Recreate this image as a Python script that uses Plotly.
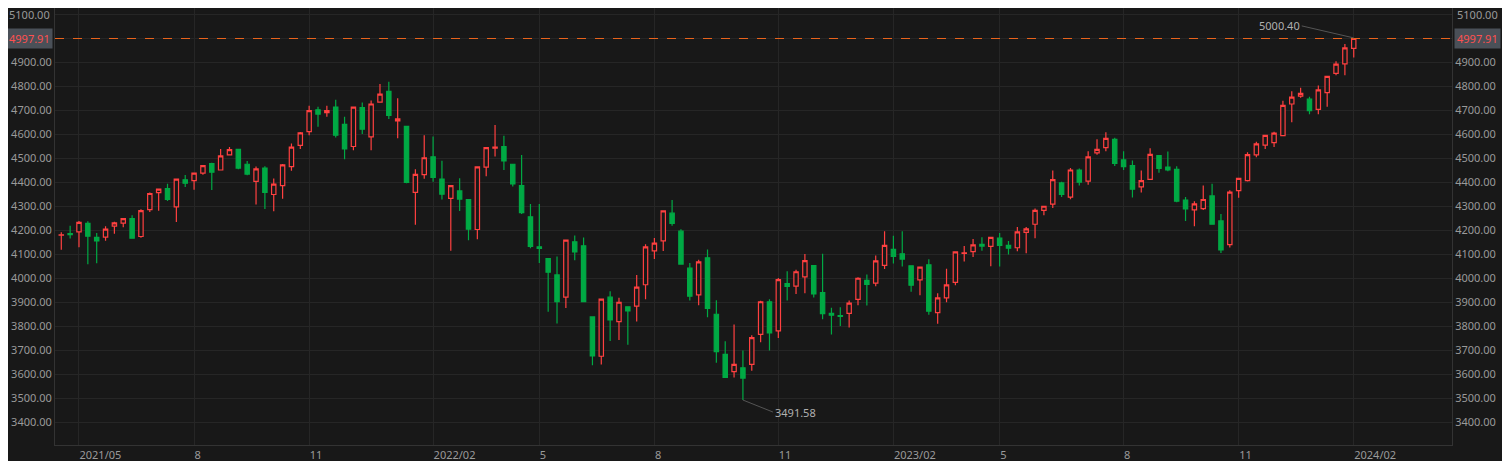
import plotly.graph_objects as go
import pandas as pd

start_week = "2021-04-19"
opens = [4179,4185,4192,4228,4169,4170,4216,4229,4248,4173,4285,4356,4372,4296,4409,4406,4437,4477,4450,4513,4536,4474,4403,4458,4348,4385,4464,4553,4610,4701,4689,4712,4640,4548,4710,4588,4733,
 4778,4655,4632,4357,4431,4505,4412,4332,4363,4327,4202,4462,4541,4547,4474,4385,4255,4130,4081,4013,3920,4151,4134,3838,3674,3920,3818,3880,3883,3972,4113,4155,4270,4195,4041,3930,4084,3849,3682,3610,3626,3640,3765,3901,3780,3977,3966,4005,4052,3939,3853,3843,
 3853,3911,3990,3979,4053,4119,4101,4051,3992,4055,3856,3917,3982,4102,4110,4140,4132,4166,4136,4126,4190,4224,4282,4308,4396,4337,4450,4404,4521,4543,4578,4492,4468,4380,4411,4510,4462,4453,4325,4284,4289,4342,4238,4139,4364,4406,4513,4554,4564,4593,4725,4758,
 4745,4703,4772,4853,4892,4957]
highs = [4191,4218,4238,4236,4187,4216,4234,4249,4261,4286,4356,4372,4393,4415,4429,4440,4470,4480,4537,4546,4536,4488,4465,4466,4415,4475,4560,4608,4718,4714,4718,4743,4672,4713,4731,4740,4808,
 4818,4749,4632,4453,4595,4590,4489,4385,4416,4329,4465,4546,4637,4593,4471,4513,4308,4308,4082,4090,4159,4177,4169,3838,3913,3945,3918,3880,4013,4141,4167,4280,4325,4203,4062,4076,4119,3907,3736,3806,3698,3762,3905,3911,4000,4028,4034,4100,4052,4101,3876,3878,
 3906,4003,4015,4094,4195,4176,4195,4052,4048,4078,3937,4039,4110,4133,4163,4170,4170,4187,4154,4212,4212,4290,4299,4448,4401,4458,4456,4528,4578,4607,4584,4528,4490,4448,4541,4512,4527,4466,4338,4320,4385,4393,4267,4366,4415,4524,4568,4595,4609,4739,4778,4793,
 4755,4802,4842,4903,4975,5000.40]
lows = [4118,4165,4128,4057,4061,4155,4184,4211,4164,4168,4275,4280,4321,4233,4379,4368,4430,4367,4450,4513,4453,4428,4306,4288,4278,4330,4447,4537,4595,4630,4672,4585,4495,4532,4600,4532,4733,
 4663,4582,4395,4222,4414,4401,4327,4114,4279,4157,4161,4424,4506,4450,4381,4267,4124,4062,3859,3810,3875,4074,3901,3637,3640,3738,3742,3722,3819,3911,4079,4112,4218,4057,3906,3887,3837,3647,3584,3585,3491.58,3614,3732,3698,3750,3906,3933,3937,3919,3828,3765,3800,
 3794,3886,3885,3966,4037,4060,4048,3943,3928,3847,3809,3899,3970,4069,4087,4114,4049,4048,4098,4111,4103,4166,4261,4292,4337,4328,4385,4389,4514,4528,4467,4450,4335,4356,4409,4439,4445,4316,4238,4216,4283,4223,4104,4127,4334,4402,4503,4537,4546,4593,4649,4751,
 4682,4682,4714,4845,4845,4919]
closes = [4180,4181,4232,4174,4155,4204,4230,4247,4166,4281,4352,4370,4327,4412,4395,4437,4468,4441,4509,4535,4458,4433,4455,4357,4391,4471,4545,4605,4697,4683,4698,4595,4538,4712,4620,4725,4766,
 4677,4663,4398,4432,4501,4419,4349,4385,4329,4204,4463,4543,4545,4488,4392,4272,4132,4123,4024,3901,4158,4109,3901,3675,3912,3825,3899,3863,3962,4130,4145,4280,4228,4058,3924,4067,3873,3693,3586,3640,3583,3752,3901,3771,3993,3965,4026,4072,3934,3852,3845,3840,
 3895,3999,3973,4071,4136,4090,4079,3970,4045,3862,3917,3971,4109,4105,4138,4133,4169,4136,4124,4192,4205,4282,4299,4410,4348,4450,4399,4505,4536,4582,4478,4464,4370,4406,4515,4457,4450,4320,4288,4309,4327,4224,4117,4358,4415,4514,4559,4594,4604,4719,4754,4769,
 4697,4784,4840,4891,4959,4997.91]

last_price = 4997.91
top_tick = 5100
bg = "#181818"
grid = "#262626"
txt = "#9a9a9a"

dates = pd.date_range(start_week, periods=len(closes), freq="7D")
idx = list(range(len(closes)))

tickvals, ticktext = [], []
for i, d in enumerate(dates):
    if d.month in (2, 5, 8, 11) and d.day <= 7:
        tickvals.append(i)
        ticktext.append(f"{d.year}/{d.month:02d}" if d.month == 2 or not ticktext else str(d.month))

fig = go.Figure()
fig.add_trace(go.Candlestick(
    x=idx, open=opens, high=highs, low=lows, close=closes,
    increasing=dict(line=dict(color="#ff4040", width=1.2), fillcolor=bg),
    decreasing=dict(line=dict(color="#00a944", width=1.2), fillcolor="#00a944"),
    whiskerwidth=0, showlegend=False, hoverinfo="skip"))
fig.add_trace(go.Scatter(x=[0], y=[last_price], yaxis="y2", mode="markers",
                         marker=dict(opacity=0), showlegend=False, hoverinfo="skip"))

fig.add_shape(type="line", xref="paper", x0=0, x1=1, y0=last_price, y1=last_price,
              line=dict(color="#e8631c", width=1.2, dash="dash"))

imax = highs.index(max(highs))
imin = lows.index(min(lows))
fig.add_annotation(x=imax, y=highs[imax], text=f"{highs[imax]:.2f}", showarrow=True,
                   arrowhead=0, arrowcolor="#555", arrowwidth=1, ax=-52, ay=-12,
                   xanchor="right", font=dict(color="#b0b0b0", size=11))
fig.add_annotation(x=imin, y=lows[imin], text=f"{lows[imin]:.2f}", showarrow=True,
                   arrowhead=0, arrowcolor="#555", arrowwidth=1, ax=30, ay=12,
                   xanchor="left", font=dict(color="#b0b0b0", size=11))
for xp, xa in ((0, "right"), (1, "left")):
    fig.add_annotation(xref="paper", x=xp, y=last_price, text=f"{last_price:.2f}",
                       showarrow=False, xanchor=xa, bgcolor="#4a5058", borderpad=2,
                       font=dict(color="#ff5050", size=11), xshift=-2 if xp == 0 else 2)
    fig.add_annotation(xref="paper", x=xp, y=top_tick, text=f"{top_tick:.2f}",
                       showarrow=False, xanchor=xa, font=dict(color=txt, size=11),
                       xshift=-3 if xp == 0 else 3)

yrange = [3304.2, 5125]
axis_common = dict(range=yrange, tickvals=list(range(3400, top_tick + 1, 100)), tickformat=".2f",
                   gridcolor=grid, tickfont=dict(color=txt, size=11), zeroline=False,
                   showline=True, linecolor="#333", fixedrange=True)
fig.update_layout(
    width=1494, height=453, paper_bgcolor=bg, plot_bgcolor=bg,
    margin=dict(l=47, r=50, t=0, b=16),
    font=dict(family="Noto Sans, sans-serif"),
    xaxis=dict(range=[-0.71, 157.1], tickvals=tickvals, ticktext=ticktext,
               ticklabelposition="outside right", gridcolor=grid, showline=True,
               linecolor="#333", tickfont=dict(color=txt, size=11),
               rangeslider=dict(visible=False), zeroline=False, ticks=""),
    yaxis=dict(side="left", **axis_common),
    yaxis2=dict(side="right", overlaying="y", showgrid=False, **axis_common),
)
fig.write_html("out.html")
